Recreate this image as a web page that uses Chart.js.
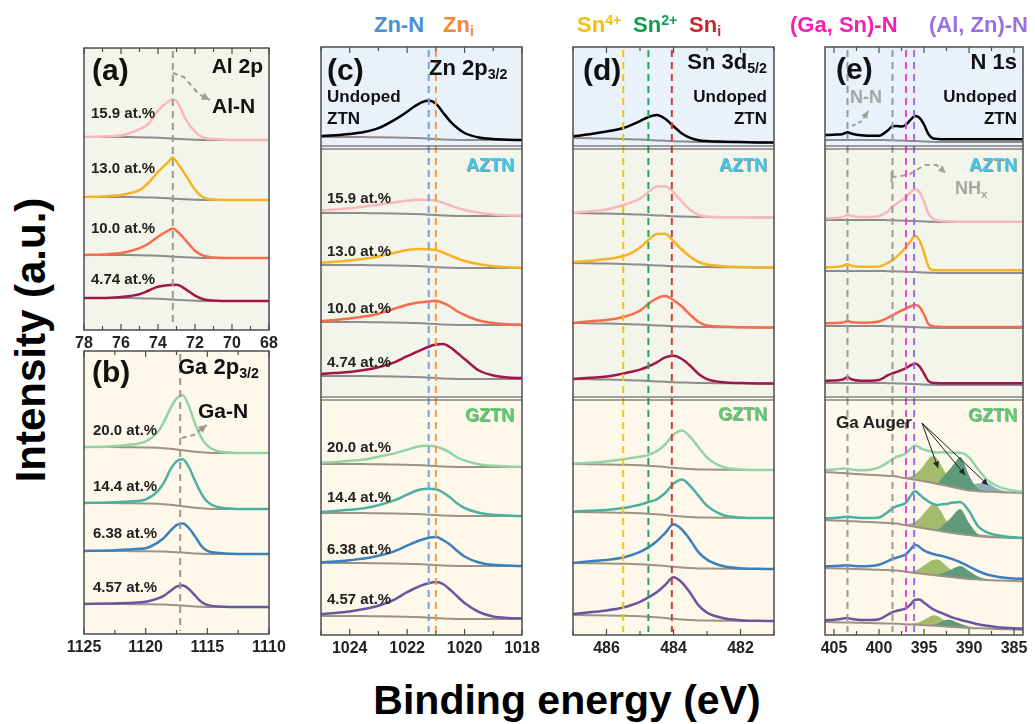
<!DOCTYPE html>
<html>
<head>
<meta charset="utf-8">
<script src="https://cdn.jsdelivr.net/npm/chart.js@4.4.0/dist/chart.umd.min.js"></script>
<style>
  body { margin: 0; background: #fff; width: 1035px; height: 724px; position: relative; overflow: hidden;
         font-family: "Liberation Sans", Arial, sans-serif; font-weight: bold; }
  canvas { position: absolute; }
  .t { position: absolute; white-space: nowrap; line-height: 1; }
  sub, sup { font-size: 0.65em; vertical-align: baseline; position: relative; line-height: 0; }
  sub { top: 0.3em; }
  sup { top: -0.5em; }
</style>
</head>
<body>
<script>
// ---- categories / labels ----
const compA = ['15.9 at.%', '13.0 at.%', '10.0 at.%', '4.74 at.%'];
const compG = ['20.0 at.%', '14.4 at.%', '6.38 at.%', '4.57 at.%'];

// ---- tick labels ----
const ticksA = [78, 76, 74, 72, 70, 68];
const ticksB = [1125, 1120, 1115, 1110];
const ticksC = [1024, 1022, 1020, 1018];
const ticksD = [486, 484, 482];
const ticksE = [405, 400, 395, 390, 385];

// ---- reference binding energies (dashed lines) ----
const refA = [73.2];
const refB = [1117.2];
const refC = [1021.25, 1021.0];          // Zn-N, Zn_i
const refD = [485.5, 484.75, 484.05];    // Sn4+, Sn2+, Sn_i
const refE = [403.5, 398.5, 397.0, 396.1]; // N-N, NHx, (Ga,Sn)-N, (Al,Zn)-N

// ---- (a) Al 2p ----
const energyA = [78, 77, 76, 75.5, 75, 74.5, 74, 73.5, 73.2, 73, 72.5, 72, 71.5, 71, 70, 69, 68];
const a159 = [0, 0.5, 1.5, 4, 8, 14, 27, 36, 39, 38, 20, 8, 2, 1, 0, 0, 0];
const a130 = [0, 0.5, 2, 4, 7, 15, 26, 35, 41, 37, 24, 10, 2, 0.5, 0, 0, 0];
const a100 = [0, 0.5, 2, 4, 7, 12, 19, 25, 28, 26, 17, 7, 2, 0.5, 0, 0, 0];
const a474 = [0, 0, 1, 2, 4, 8, 12, 14, 14.5, 15, 11, 5, 1.5, 0.5, 0, 0, 0];
const bgA = [0, 0, 0, 0, -0.2, -0.5, -0.8, -1.2, -1.5, -1.8, -2.3, -2.7, -3, -3, -3, -3, -3];
const offA = [193, 133, 75, 32];

// ---- (b) Ga 2p3/2 ----
const energyB = [1125, 1123, 1121, 1120, 1119, 1118.5, 1118, 1117.5, 1117, 1116.5, 1116, 1115.5, 1115, 1114, 1112, 1110];
const b200 = [0, 0.5, 3, 6, 16, 27, 40, 51, 55, 45, 28, 15, 7, 1.5, 0, 0];
const b144 = [0, 0.5, 2, 4, 13, 22, 35, 44, 47, 40, 27, 15, 7, 1.5, 0, 0];
const b638 = [0, 0.5, 2, 3, 9, 14, 21, 27, 29, 25, 17, 8, 3, 1, 0, 0];
const b457 = [0, 0.5, 1.5, 2.5, 6, 9, 14, 18.5, 20, 17, 11, 5, 2, 0.5, 0, 0];
const bgB = [0, 0, -0.3, -0.5, -0.8, -1.2, -1.7, -2.4, -3.2, -4, -4.7, -5.3, -5.7, -6, -6, -6];
const bgB2 = [0, 0, -0.2, -0.3, -0.4, -0.6, -0.9, -1.2, -1.6, -2, -2.4, -2.7, -2.9, -3, -3, -3];
const offB = [187, 131, 83, 30];

// ---- (c) Zn 2p3/2 ----
const energyC = [1025, 1024.5, 1024, 1023.5, 1023, 1022.5, 1022, 1021.75, 1021.5, 1021.25, 1021, 1020.75, 1020.5, 1020.25, 1020, 1019.5, 1019, 1018.5, 1018];
const c0   = [1, 1.8, 3, 5, 9, 16.5, 26, 31.5, 36, 38.3, 35.5, 27, 18.5, 12, 7, 2.5, 1, 0.3, 0];
const c159 = [2.5, 3.5, 4.7, 6.5, 8.5, 10.7, 13, 14, 14.5, 14.7, 14.3, 12.8, 10.5, 8, 6, 3.2, 1.5, 0.7, 0.3];
const c130 = [2.3, 3.2, 4.5, 6.3, 8.8, 12.2, 15.8, 16.8, 17.2, 17.3, 17.2, 15, 12.3, 9.5, 7, 3.8, 1.8, 0.8, 0.3];
const c100 = [1, 2, 3.5, 5.5, 8.5, 13.2, 18, 19.8, 21, 22.3, 23.3, 21.5, 18.3, 13.5, 10, 4.5, 2, 0.7, 0.3];
const c474 = [2, 3, 4, 6, 9, 13.5, 20.5, 24, 27.5, 31, 33.5, 34.5, 31.5, 26, 20, 8.5, 3.5, 1.5, 1];
const c200 = [1.3, 2, 3.2, 4.5, 7.5, 10.5, 15, 17.5, 19.3, 20, 19.5, 17.5, 14, 9.5, 6.5, 2.8, 1.2, 0.5, 0];
const c144 = [1, 2, 3.2, 4.8, 8, 12.5, 19, 22.5, 25, 26, 25.8, 23, 18.3, 12.5, 8, 3.2, 1.2, 0.4, 0];
const c638 = [0.7, 1.5, 2.8, 4.5, 7.5, 11.5, 18, 21.5, 24.5, 27, 28, 25.5, 21, 15, 9.5, 3.5, 1.2, 0.4, 0];
const c457 = [2, 3, 4.5, 7, 10.5, 16, 24.5, 28.5, 32, 34.5, 36, 34.5, 29, 22.5, 16, 7, 2.5, 1, 0.5];
const bgC = [0, 0, 0, -0.1, -0.2, -0.4, -0.7, -1, -1.3, -1.7, -2.1, -2.5, -2.8, -3, -3, -3, -3, -3, -3];
const offC0 = 498;
const offCA = [422, 370, 313, 259];
const offCG = [171, 122, 72, 19];

// ---- (d) Sn 3d5/2 ----
const energyD = [487, 486.5, 486, 485.5, 485.25, 485, 484.75, 484.5, 484.25, 484, 483.75, 483.5, 483.25, 483, 482.5, 482, 481.5, 481];
const d0   = [1.7, 4, 7, 11, 14.5, 18.5, 23, 25.5, 22, 15, 8, 4, 1.8, 1, 0.5, 0.2, 0, 0];
const d159 = [0, 2, 4, 9, 12, 16, 23, 29, 29.5, 24, 15, 7, 2, 0.5, 0, 0, 0, 0];
const d130 = [0.7, 2.5, 4.5, 8, 11.5, 17, 25, 31.5, 32, 25, 17, 10, 5, 2.5, 1, 0.3, 0, 0];
const d100 = [0, 2, 3.5, 7, 10, 14, 21, 27, 29.7, 26, 20, 12, 5, 1.5, 0.5, 0, 0, 0];
const d474 = [0, 1.5, 3, 6.5, 8.5, 11, 14.5, 19, 24.5, 26.5, 23.5, 17, 9, 4, 1, 0.3, 0, 0];
const d200 = [0.5, 1.5, 3, 5.5, 7, 8.5, 10.7, 15, 22.5, 33, 38, 32, 22, 12, 2.5, 0.5, 0, 0];
const d144 = [0.3, 1.5, 2.5, 4.7, 6.5, 8.5, 11.7, 15, 22, 32, 37, 31, 21.5, 12, 2.5, 0.5, 0, 0];
const d638 = [0, 2, 3.5, 6.3, 9, 12.5, 17.3, 24, 33, 42.5, 38, 28, 16, 9, 2.5, 0.7, 0.2, 0];
const d457 = [1, 3, 5, 8.3, 11, 14.5, 19.3, 25, 33, 41.5, 37, 27, 15, 8, 2.5, 0.7, 0.2, 0];
const bgD  = [0, -0.3, -0.6, -1, -1.3, -1.6, -2, -2.4, -2.8, -3.2, -3.5, -3.8, -4, -4.1, -4.2, -4.3, -4.4, -4.5];
const bgDg = [0, -0.2, -0.4, -0.8, -1, -1.3, -1.7, -2.3, -3, -3.8, -4.5, -5, -5.4, -5.6, -5.8, -5.9, -6, -6];
const offD0 = 497;
const offDA = [422, 372, 312, 256];
const offDG = [171, 123, 72, 20];

// ---- (e) N 1s ----
const energyE = [406, 405, 404, 403.5, 403, 402, 401, 400, 399, 398.5, 398, 397.5, 397, 396.5, 396, 395.5,
                 395, 394.5, 394, 393.5, 393, 392.5, 392, 391.5, 391, 390, 389, 388, 387, 386, 385, 384];
const e0   = [5, 5.3, 6, 7.7, 6.3, 4.7, 4.3, 4.2, 10, 14, 14.3, 14, 16, 21, 25, 23.5,
              17, 7.5, 3.5, 3, 2.8, 2.7, 2.7, 2.7, 2.7, 2.7, 2.7, 2.7, 2.7, 2.7, 2.7, 2.7];
const e159 = [1.7, 2, 3, 5, 4, 3, 3, 4, 9, 14, 17, 20, 24, 28.5, 31.7, 29.5,
              20, 8, 3, 1.5, 1, 0.7, 0.5, 0.4, 0.3, 0.3, 0.3, 0.3, 0.3, 0.3, 0.3, 0.3];
const e130 = [3.7, 4, 5, 6.7, 5, 4.3, 4.3, 4.5, 8.5, 11, 15, 19.3, 24.5, 30.5, 36, 32,
              20, 6, 2.7, 2.7, 2.7, 2.7, 2.7, 2.7, 2.7, 2.7, 2.7, 2.7, 2.7, 2.7, 2.7, 2.7];
const e100 = [2.7, 3, 3.5, 5, 3.7, 3.3, 3.5, 4.5, 8.5, 11, 13.5, 16, 18, 20.5, 22, 20.5,
              13, 3.5, 1.5, 1.2, 1, 1, 1, 1, 1, 1, 1, 1, 1, 1, 1, 1];
const e474 = [2.3, 2.5, 3.5, 5.7, 3.5, 2.3, 2.3, 3, 8, 10, 11.5, 13.3, 15.5, 18.5, 20.7, 18,
              11, 3.5, 2, 1.8, 1.7, 1.7, 1.7, 1.7, 1.7, 1.7, 1.7, 1.7, 1.7, 1.7, 1.7, 1.7];
const bgE  = [0, 0, 0, 0, 0, 0, 0, 0, -0.2, -0.3, -0.4, -0.5, -0.7, -0.9, -1.1, -1.3,
              -1.5, -1.7, -1.8, -1.9, -2, -2, -2, -2, -2, -2, -2, -2, -2, -2, -2, -2];
const e200 = [1.7, 3, 4.5, 4.7, 4.3, 4, 5, 8, 13.5, 17, 20, 22, 25, 30, 34.3, 33,
              31.5, 31, 31, 31.5, 32.5, 33.3, 34, 35, 36, 33, 22, 12, 6.5, 3.5, 2, 1];
const e144 = [1.7, 2.5, 3.7, 4.3, 4, 3.7, 4, 5, 11, 15, 17.5, 19.5, 22.5, 30, 35.5, 33,
              30, 27.5, 26, 25.5, 27, 28, 30, 31, 32, 24, 10, 4.5, 2.3, 1.3, 0.7, 0.5];
const e638 = [1.7, 2.3, 3, 3.3, 3.2, 3, 3.5, 5, 9, 11.3, 13, 15, 17.5, 23, 28.3, 26.5,
              23.5, 22, 21, 20.5, 20, 19.3, 18.5, 17.3, 16, 12.5, 8.5, 5.5, 4, 3, 2.5, 2.3];
const e457 = [1.7, 2.5, 3.8, 4.5, 3.5, 2.7, 3, 4, 9, 11.5, 13, 14.3, 16, 20, 25, 25.5,
              22.5, 19.5, 16.5, 14.7, 13, 11.5, 10, 8.8, 7.8, 6, 4, 2.8, 2, 1.5, 1.2, 1];
const bgE200 = [0, -0.5, -1.1, -1.4, -1.7, -2.3, -2.8, -3.3, -3.9, -4.1, -4.6, -5.5, -6.3, -7, -7.7, -8.5,
                -9.2, -10, -11, -12, -12.8, -13.7, -14.7, -15.8, -16.8, -18.4, -19.2, -19.7, -20, -20.4, -20.7, -21];
const bgE144 = [0, -0.4, -0.8, -1, -1.3, -1.7, -2.1, -2.5, -3, -3.2, -3.6, -4.4, -5.2, -6, -6.7, -7.5,
                -8.3, -9, -9.8, -10.5, -11.2, -12, -12.8, -13.5, -14.1, -15.1, -16.2, -16.9, -17.3, -17.7, -18, -18.3];
const bgE638 = [0, -0.3, -0.6, -0.7, -0.9, -1.2, -1.5, -1.8, -2.1, -2.2, -2.5, -3.1, -3.7, -4.4, -5, -5.5,
                -6, -6.5, -7, -7.5, -8, -8.6, -9.1, -9.6, -10.1, -11, -11.5, -12, -12.4, -12.7, -13, -13.3];
const bgE457 = [0, -0.2, -0.4, -0.5, -0.6, -0.8, -1.1, -1.3, -1.5, -1.6, -1.8, -2, -2.3, -2.5, -2.7, -3,
                -3.2, -3.5, -3.7, -4, -4.2, -4.5, -4.9, -5.2, -5.5, -6, -6.3, -6.6, -6.9, -7.2, -7.5, -7.7];
// Ga Auger components (above background)
const aug1_200 = [0, 0, 0, 0, 0, 0, 0, 0, 0, 0, 0, 0.3, 1, 2.5, 5.5, 10, 16, 23, 27, 25, 18, 11, 6, 2.5, 1, 0, 0, 0, 0, 0, 0, 0];
const aug2_200 = [0, 0, 0, 0, 0, 0, 0, 0, 0, 0, 0, 0, 0, 0, 0, 0, 0, 0, 0, 1, 7, 13, 19, 26, 32, 15, 2.5, 0.5, 0, 0, 0, 0];
const aug3_200 = [0, 0, 0, 0, 0, 0, 0, 0, 0, 0, 0, 0, 0, 0, 0, 0, 0, 0, 0, 0, 0, 0, 0, 0, 0.5, 3, 8, 8.5, 4, 1, 0.2, 0];
const aug1_144 = [0, 0, 0, 0, 0, 0, 0, 0, 0, 0, 0, 0.3, 1, 2.5, 5, 9, 15, 21, 25.5, 24, 18, 11, 6, 2.5, 1, 0, 0, 0, 0, 0, 0, 0];
const aug2_144 = [0, 0, 0, 0, 0, 0, 0, 0, 0, 0, 0, 0, 0, 0, 0, 0, 0, 0, 0, 1, 5, 10, 15, 21, 25, 12, 2, 0.3, 0, 0, 0, 0];
const aug3_144 = [0, 0, 0, 0, 0, 0, 0, 0, 0, 0, 0, 0, 0, 0, 0, 0, 0, 0, 0, 0, 0, 0, 0, 0, 0, 0.5, 2, 2, 1, 0.3, 0, 0];
const aug1_638 = [0, 0, 0, 0, 0, 0, 0, 0, 0, 0, 0, 0, 0.3, 1, 2.5, 5, 8.5, 12, 15, 16, 14, 10.5, 7, 4, 2, 0.3, 0, 0, 0, 0, 0, 0];
const aug2_638 = [0, 0, 0, 0, 0, 0, 0, 0, 0, 0, 0, 0, 0, 0, 0, 0, 0, 0, 0.2, 1, 2.5, 5, 7.5, 10, 12, 8, 3, 0.7, 0, 0, 0, 0];
const aug1_457 = [0, 0, 0, 0, 0, 0, 0, 0, 0, 0, 0, 0, 0.2, 0.7, 1.5, 3, 5.5, 8, 10.5, 10, 7.5, 5, 3, 1.2, 0.5, 0, 0, 0, 0, 0, 0, 0];
const aug2_457 = [0, 0, 0, 0, 0, 0, 0, 0, 0, 0, 0, 0, 0, 0, 0, 0, 0, 0.3, 1, 2.5, 5, 6.8, 7, 5.5, 4, 1.5, 0.3, 0, 0, 0, 0, 0];
const offE0 = 495;
const offEA = [415, 364, 309, 252];
const offEG = [163, 115, 67, 13];

// ---- styles ----
const colA = ['#f7b9bd', '#f6b325', '#f76c4c', '#a1164a'];
const colG = ['#93d3a6', '#4daf9f', '#3b7fbf', '#6a559f'];
const augerColors = ['#a5bb6c', '#5f9b7b', '#92aeb6'];
const augerOrder = [3, 2, 4];
const BG_U = '#e9f1fb', BG_A = '#f3f5ea', BG_G = '#fdf8e9';
const BASE_A = '#8c8c8c', BASE_G = '#9b9383';
const PADX = 26, PADT = 3, AXIS_H = 24;
const threeSections = [[0, 100.5, BG_U], [100.5, 351.5, BG_A], [351.5, 588, BG_G]];

Chart.defaults.font.family = '"Liberation Sans", Arial, sans-serif';

// baseline + (optional Auger fills) + spectrum for every sample
function stack(grid, sets) {
  const ds = [];
  sets.forEach(s => {
    ds.push({ data: grid.map((e, i) => ({ x: e, y: s.off + s.bg[i] })),
              borderColor: s.base, borderWidth: 2, fill: false, order: 1 });
    const baseIndex = ds.length - 1;
    (s.aug || []).forEach((g, k) => {
      ds.push({ data: grid.map((e, i) => ({ x: e, y: s.off + s.bg[i] + g[i] })),
                borderWidth: 0, borderColor: 'rgba(0,0,0,0)', backgroundColor: augerColors[k],
                fill: baseIndex, order: augerOrder[k] });
    });
    ds.push({ data: grid.map((e, i) => ({ x: e, y: s.off + s.bg[i] + s.sig[i] })),
              borderColor: s.color, borderWidth: 2.5, fill: false, order: 0 });
  });
  return ds;
}

function arrow(ctx, x, y, pts, color, dash, width, head) {
  const p = pts.map(q => [x.getPixelForValue(q[0]), y.getPixelForValue(q[1])]);
  ctx.save();
  ctx.strokeStyle = color; ctx.fillStyle = color; ctx.lineWidth = width;
  ctx.setLineDash(dash);
  ctx.beginPath();
  ctx.moveTo(p[0][0], p[0][1]);
  for (let i = 1; i < p.length; i++) ctx.lineTo(p[i][0], p[i][1]);
  ctx.stroke();
  ctx.setLineDash([]);
  const [x1, y1] = p[p.length - 2], [x2, y2] = p[p.length - 1];
  const ang = Math.atan2(y2 - y1, x2 - x1);
  ctx.beginPath();
  ctx.moveTo(x2, y2);
  ctx.lineTo(x2 - head * Math.cos(ang - 0.45), y2 - head * Math.sin(ang - 0.45));
  ctx.lineTo(x2 - head * Math.cos(ang + 0.45), y2 - head * Math.sin(ang + 0.45));
  ctx.closePath();
  ctx.fill();
  ctx.restore();
}

// backgrounds, frame, inward ticks, reference lines, annotations
function decor(cfg) {
  return {
    id: 'decor',
    beforeDatasetsDraw(chart) {
      const { ctx, chartArea: a } = chart;
      ctx.save();
      cfg.sections.forEach(s => {
        ctx.fillStyle = s[2];
        ctx.fillRect(a.left, a.top + s[0], a.width, s[1] - s[0]);
      });
      ctx.restore();
    },
    afterDatasetsDraw(chart) {
      const { ctx, chartArea: a, scales } = chart;
      const x = scales.x, y = scales.y;
      ctx.save();
      ctx.lineWidth = 2;
      ctx.setLineDash([7, 5]);
      cfg.refs.forEach((v, i) => {
        const px = x.getPixelForValue(v);
        ctx.strokeStyle = cfg.refColors[i];
        ctx.beginPath(); ctx.moveTo(px, a.top + 3); ctx.lineTo(px, a.bottom - 3); ctx.stroke();
      });
      ctx.setLineDash([]);
      ctx.strokeStyle = '#4d4d4d';
      ctx.lineWidth = 1.2;
      (cfg.doubles || []).forEach(d => {
        [d, d + 3].forEach(yy => {
          ctx.beginPath(); ctx.moveTo(a.left, a.top + yy); ctx.lineTo(a.right, a.top + yy); ctx.stroke();
        });
      });
      ctx.lineWidth = 1.5;
      ctx.strokeRect(a.left, a.top, a.width, a.height);
      ctx.lineWidth = 1.2;
      const start = Math.ceil(cfg.min / cfg.minor - 1e-9);
      for (let k = start; k * cfg.minor <= cfg.max + 1e-9; k++) {
        const v = k * cfg.minor;
        const px = x.getPixelForValue(v);
        const len = cfg.ticks.some(t => Math.abs(t - v) < 1e-6) ? 6 : 4;
        ctx.beginPath();
        ctx.moveTo(px, a.bottom); ctx.lineTo(px, a.bottom - len);
        ctx.moveTo(px, a.top); ctx.lineTo(px, a.top + len);
        ctx.stroke();
      }
      if (cfg.draw) cfg.draw(ctx, x, y);
      ctx.restore();
    }
  };
}

function makePanel(cfg) {
  const cv = document.createElement('canvas');
  const W = cfg.w + 2 * PADX, H = cfg.h + PADT + AXIS_H;
  cv.width = W; cv.height = H;
  cv.style.left = (cfg.l - PADX) + 'px';
  cv.style.top = (cfg.t - PADT) + 'px';
  cv.style.width = W + 'px'; cv.style.height = H + 'px';
  document.body.appendChild(cv);
  new Chart(cv, {
    type: 'line',
    data: { datasets: cfg.datasets },
    options: {
      responsive: false, animation: false, devicePixelRatio: 1,
      layout: { padding: { left: PADX, right: PADX, top: PADT, bottom: 0 } },
      plugins: { legend: { display: false }, tooltip: { enabled: false } },
      elements: { point: { radius: 0 }, line: { cubicInterpolationMode: 'monotone', borderJoinStyle: 'round' } },
      scales: {
        x: {
          type: 'linear', reverse: true, min: cfg.min, max: cfg.max,
          afterBuildTicks: s => { s.ticks = cfg.ticks.map(v => ({ value: v })); },
          afterFit: s => { s.height = AXIS_H; },
          grid: { display: false, drawTicks: false },
          border: { display: false },
          ticks: { padding: 4, color: '#222', autoSkip: false, maxRotation: 0,
                   font: { size: 16, weight: 'bold' }, callback: v => String(v) }
        },
        y: { display: false, min: 0, max: cfg.h }
      }
    },
    plugins: [decor(cfg)]
  });
}

// (a)
const seriesA = [a159, a130, a100, a474];
makePanel({
  l: 84, t: 48, w: 185, h: 282, min: 68, max: 78, minor: 1, ticks: ticksA,
  sections: [[0, 282, BG_A]], refs: refA, refColors: ['#9a9a9a'],
  datasets: stack(energyA, seriesA.map((s, i) => ({ sig: s, bg: bgA, off: offA[i], color: colA[i], base: BASE_A }))),
  draw: (ctx, x, y) => arrow(ctx, x, y, [[73.2, 257], [72.6, 253], [71.8, 236], [71.2, 230]], '#9a9a9a', [5, 4], 2, 9)
});

// (b)
const seriesB = [b200, b144, b638, b457];
const bgsB = [bgB, bgB, bgB2, bgB2];
makePanel({
  l: 84, t: 351, w: 185, h: 283, min: 1110, max: 1125, minor: 2.5, ticks: ticksB,
  sections: [[0, 283, BG_G]], refs: refB, refColors: ['#9e968a'],
  datasets: stack(energyB, seriesB.map((s, i) => ({ sig: s, bg: bgsB[i], off: offB[i], color: colG[i], base: BASE_G }))),
  draw: (ctx, x, y) => arrow(ctx, x, y, [[1117.08, 196], [1116.1, 199], [1115.05, 209]], '#9e968a', [5, 4], 2, 9)
});

// (c)
const seriesCA = [c159, c130, c100, c474];
const seriesCG = [c200, c144, c638, c457];
makePanel({
  l: 321, t: 47, w: 201, h: 588, min: 1018, max: 1025, minor: 1, ticks: ticksC,
  sections: threeSections, doubles: [99, 350], refs: refC, refColors: ['#6fa4dc', '#f59a45'],
  datasets: stack(energyC, [{ sig: c0, bg: bgC, off: offC0, color: '#000', base: BASE_A }]
    .concat(seriesCA.map((s, i) => ({ sig: s, bg: bgC, off: offCA[i], color: colA[i], base: BASE_A })))
    .concat(seriesCG.map((s, i) => ({ sig: s, bg: bgC, off: offCG[i], color: colG[i], base: BASE_G }))))
});

// (d)
const seriesDA = [d159, d130, d100, d474];
const seriesDG = [d200, d144, d638, d457];
makePanel({
  l: 573, t: 47, w: 201, h: 588, min: 481, max: 487, minor: 1, ticks: ticksD,
  sections: threeSections, doubles: [99, 350], refs: refD, refColors: ['#f5c30c', '#20a85a', '#d23a35'],
  datasets: stack(energyD, [{ sig: d0, bg: bgD, off: offD0, color: '#000', base: BASE_A }]
    .concat(seriesDA.map((s, i) => ({ sig: s, bg: bgD, off: offDA[i], color: colA[i], base: BASE_A })))
    .concat(seriesDG.map((s, i) => ({ sig: s, bg: bgDg, off: offDG[i], color: colG[i], base: BASE_G }))))
});

// (e)
const seriesEA = [e159, e130, e100, e474];
const seriesEG = [e200, e144, e638, e457];
const bgsEG = [bgE200, bgE144, bgE638, bgE457];
const augsEG = [[aug1_200, aug2_200, aug3_200], [aug1_144, aug2_144, aug3_144], [aug1_638, aug2_638], [aug1_457, aug2_457]];
makePanel({
  l: 825, t: 47, w: 198, h: 588, min: 384, max: 406, minor: 2.5, ticks: ticksE,
  sections: threeSections, doubles: [99, 350], refs: refE, refColors: ['#9a9a9a', '#9a9a9a', '#f046d2', '#9b6cee'],
  datasets: stack(energyE, [{ sig: e0, bg: bgE, off: offE0, color: '#000', base: BASE_A }]
    .concat(seriesEA.map((s, i) => ({ sig: s, bg: bgE, off: offEA[i], color: colA[i], base: BASE_A })))
    .concat(seriesEG.map((s, i) => ({ sig: s, bg: bgsEG[i], off: offEG[i], color: colG[i], base: BASE_G, aug: augsEG[i] })))),
  draw: (ctx, x, y) => {
    arrow(ctx, x, y, [[403.0, 509], [401.9, 514], [401.2, 524]], '#a0a0a0', [4, 3], 2, 8);
    // NHx bracket + arrow
    ctx.save();
    ctx.strokeStyle = '#a0a0a0'; ctx.lineWidth = 2;
    ctx.beginPath();
    ctx.moveTo(x.getPixelForValue(398.6), y.getPixelForValue(463));
    ctx.lineTo(x.getPixelForValue(398.6), y.getPixelForValue(453));
    ctx.stroke();
    ctx.restore();
    arrow(ctx, x, y, [[398.6, 458], [396.74, 460], [394.9, 470], [393.6, 470], [392.6, 462]], '#a0a0a0', [5, 4], 2, 8);
    // Ga Auger pointers
    [[393.44, 167], [390.44, 160], [387.89, 150]].forEach(tp =>
      arrow(ctx, x, y, [[395.22, 212], tp], '#222', [], 1, 7));
  }
});

// ---- text ----
function T(html, x, y, size, color, align, extra) {
  const d = document.createElement('div');
  d.className = 't';
  d.innerHTML = html;
  d.style.left = x + 'px';
  d.style.top = y + 'px';
  d.style.fontSize = size + 'px';
  d.style.color = color;
  const tx = align === 'r' ? '-100%' : align === 'c' ? '-50%' : '0';
  d.style.transform = 'translate(' + tx + ',-50%)';
  if (extra) d.style.cssText += extra;
  document.body.appendChild(d);
}
const shadow = 'text-shadow:1px 1px 0 #8a9a9c;';

T('Zn-N', 399, 25, 22, '#4a90d9', 'c');
T('Zn<sub>i</sub>', 443, 25, 22, '#f5883a', 'l');
T('Sn<sup>4+</sup>', 577, 25, 22, '#f4bf0a', 'l');
T('Sn<sup>2+</sup>', 633, 25, 22, '#0f9e4c', 'l');
T('Sn<sub>i</sub>', 689, 25, 22, '#c3282c', 'l');
T('(Ga, Sn)-N', 790, 25, 22, '#f21fb5', 'l');
T('(Al, Zn)-N', 929, 25, 22, '#9b6fe2', 'l');

T('(a)', 92, 70, 30, '#111', 'l');
T('Al 2p', 263, 65, 21, '#111', 'r');
T('Al-N', 212, 105, 21, '#111', 'l');
compA.forEach((c, i) => T(c, 91, [112, 167, 227, 278][i], 15, '#222', 'l'));

T('(b)', 92, 372, 30, '#111', 'l');
T('Ga 2p<sub>3/2</sub>', 178, 367, 22, '#111', 'l');
T('Ga-N', 198, 410, 21, '#111', 'l');
compG.forEach((c, i) => T(c, 93, [429, 485, 532, 586][i], 15, '#222', 'l'));

T('(c)', 327, 70, 30, '#111', 'l');
T('Zn 2p<sub>3/2</sub>', 429, 68, 22, '#111', 'l');
T('Undoped', 327, 96, 17, '#111', 'l');
T('ZTN', 327, 118, 17, '#111', 'l');
T('AZTN', 514, 165, 18, '#3cc8ec', 'r', shadow);
T('GZTN', 514, 415, 18, '#5ccf68', 'r', shadow);
compA.forEach((c, i) => T(c, 327, [197, 250, 307, 361][i], 15, '#222', 'l'));
compG.forEach((c, i) => T(c, 327, [446, 496, 548, 598][i], 15, '#222', 'l'));

T('(d)', 583, 70, 30, '#111', 'l');
T('Sn 3d<sub>5/2</sub>', 767, 62, 22, '#111', 'r');
T('Undoped', 767, 96, 17, '#111', 'r');
T('ZTN', 767, 118, 17, '#111', 'r');
T('AZTN', 767, 165, 18, '#3cc8ec', 'r', shadow);
T('GZTN', 767, 414, 18, '#5ccf68', 'r', shadow);

T('(e)', 836, 69, 30, '#111', 'l');
T('N 1s', 1017, 62, 22, '#111', 'r');
T('Undoped', 1017, 96, 17, '#111', 'r');
T('ZTN', 1017, 118, 17, '#111', 'r');
T('N-N', 850, 97, 18, '#a6a6a6', 'l');
T('AZTN', 1017, 165, 18, '#3cc8ec', 'r', shadow);
T('NH<sub>x</sub>', 955, 188, 18, '#a6a6a6', 'l');
T('GZTN', 1017, 415, 18, '#5ccf68', 'r', shadow);
T('Ga Auger', 836, 422, 17, '#222', 'l');

T('Binding energy (eV)', 567, 700, 41, '#000', 'c');
const yl = document.createElement('div');
yl.className = 't';
yl.textContent = 'Intensity (a.u.)';
yl.style.cssText += 'left:31px;top:340px;font-size:42px;color:#000;transform:translate(-50%,-50%) rotate(-90deg);';
document.body.appendChild(yl);
</script>
</body>
</html>
